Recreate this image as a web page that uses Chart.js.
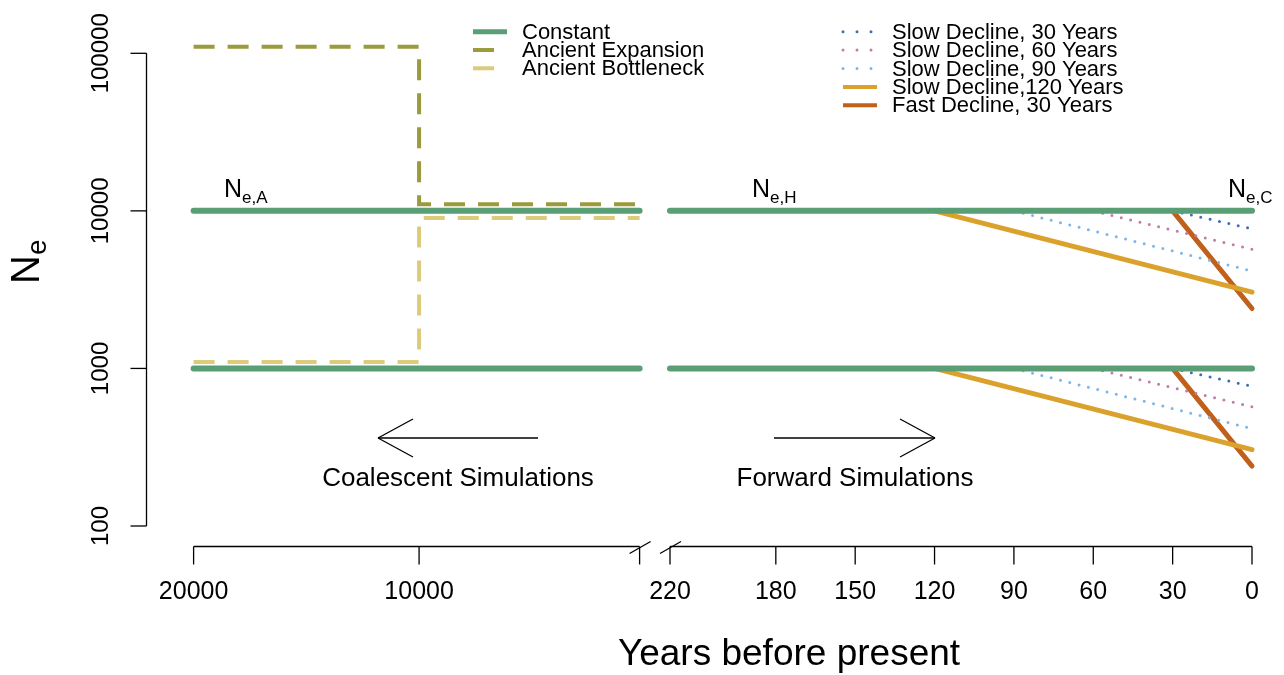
<!DOCTYPE html>
<html>
<head>
<meta charset="utf-8">
<script src="https://cdn.jsdelivr.net/npm/chart.js@4/dist/chart.umd.min.js"></script>
<style>
  body { margin: 0; background: #fff; }
  canvas { display: block; }
</style>
</head>
<body>
<canvas id="ne_chart" width="1284" height="675"></canvas>
<script>
// years before present on the coalescent (left) part of the axis
const ancientYears = [20000, 10000, 10000, 220];
const expansionNe = [110000, 110000, 11000, 11000];
const bottleneckNe = [1100, 1100, 9000, 9000];

// constant Ne, drawn on both parts of the axis
const constantNe = [10000, 1000];
const coalSpan = [20000, 220];
const forwardSpan = [220, 0];

// forward declines: start year, final Ne for the 10000 and the 1000 runs
const declineNames = ['Slow Decline, 30 Years', 'Slow Decline, 60 Years', 'Slow Decline, 90 Years',
  'Slow Decline,120 Years', 'Fast Decline, 30 Years'];
const declineStart = [30, 60, 90, 120, 30];
const declineEndHigh = [7700, 5700, 4150, 3050, 2400];
const declineEndLow = [770, 570, 415, 305, 240];
const declineColors = ['#3d6db5', '#c07cab', '#7db5e9', '#dba12d', '#c0601b'];

const leftTicks = [20000, 10000, 220];
const leftLabels = ['20000', '10000', ''];
const rightTicks = [220, 180, 150, 120, 90, 60, 30, 0];
const yTicks = [100, 1000, 10000, 100000];

// broken axis: both parts live on one linear scale
const LEFT_W = 446, GAP = 30.4, RIGHT_W = 582;
function coalX(yr) { return (20000 - yr) / 19780 * LEFT_W; }
function fwdX(yr) { return LEFT_W + GAP + (220 - yr) / 220 * RIGHT_W; }

const FONT = '"Liberation Sans", Arial, sans-serif';
const green = '#5a9e76';

var datasets = [];

constantNe.forEach(function (ne) {
  datasets.push({
    label: 'Constant',
    data: [
      { x: coalX(coalSpan[0]), y: ne }, { x: coalX(coalSpan[1]), y: ne },
      { x: (coalX(coalSpan[1]) + fwdX(forwardSpan[0])) / 2, y: null },
      { x: fwdX(forwardSpan[0]), y: ne }, { x: fwdX(forwardSpan[1]), y: ne }
    ],
    borderColor: green, borderWidth: 6, borderCapStyle: 'round', order: 0
  });
});

datasets.push({
  label: 'Ancient Expansion',
  data: ancientYears.map(function (yr, i) { return { x: coalX(yr), y: expansionNe[i] }; }),
  borderColor: '#9b9a3c', borderWidth: 4, borderDash: [21, 13], order: 2
});
datasets.push({
  label: 'Ancient Bottleneck',
  data: ancientYears.map(function (yr, i) { return { x: coalX(yr), y: bottleneckNe[i] }; }),
  borderColor: '#dccb7b', borderWidth: 4, borderDash: [21, 13], order: 2
});

declineNames.forEach(function (name, i) {
  var dotted = i < 3;
  [[10000, declineEndHigh[i]], [1000, declineEndLow[i]]].forEach(function (pair) {
    datasets.push({
      label: name,
      data: [{ x: fwdX(declineStart[i]), y: pair[0] }, { x: fwdX(0), y: pair[1] }],
      borderColor: declineColors[i],
      borderWidth: dotted ? 3 : 5,
      borderDash: dotted ? [0, 9.6] : [],
      borderCapStyle: 'round',
      order: 1
    });
  });
});

function seg(ctx, x1, y1, x2, y2) {
  ctx.beginPath(); ctx.moveTo(x1, y1); ctx.lineTo(x2, y2); ctx.stroke();
}

function subText(ctx, x, y, main, sub, size, subSize) {
  ctx.font = size + 'px ' + FONT;
  ctx.fillText(main, x, y);
  var w = ctx.measureText(main).width;
  ctx.font = subSize + 'px ' + FONT;
  ctx.fillText(sub, x + w, y + size * 0.25);
}

// R-style axes, legend and notes
const rDecor = {
  id: 'rDecor',
  afterDraw(chart) {
    const ctx = chart.ctx;
    const xs = chart.scales.x, ys = chart.scales.y;
    ctx.save();
    ctx.strokeStyle = '#000'; ctx.fillStyle = '#000'; ctx.lineWidth = 1.3;
    ctx.setLineDash([]);

    // y axis
    const ax = 146.5;
    seg(ctx, ax, ys.getPixelForValue(100), ax, ys.getPixelForValue(100000));
    ctx.font = '24px ' + FONT;
    ctx.textAlign = 'center'; ctx.textBaseline = 'middle';
    yTicks.forEach(function (v) {
      const py = ys.getPixelForValue(v);
      seg(ctx, ax - 16, py, ax, py);
      ctx.save(); ctx.translate(101, py); ctx.rotate(-Math.PI / 2);
      ctx.fillText(String(v), 0, 0); ctx.restore();
    });

    // x axis in two parts
    const ay = 546.5;
    const l0 = xs.getPixelForValue(coalX(leftTicks[0])), l1 = xs.getPixelForValue(coalX(220));
    const r0 = xs.getPixelForValue(fwdX(220)), r1 = xs.getPixelForValue(fwdX(0));
    seg(ctx, l0, ay, l1, ay);
    seg(ctx, r0, ay, r1, ay);
    ctx.font = '25px ' + FONT;
    leftTicks.forEach(function (t, i) {
      const px = xs.getPixelForValue(coalX(t));
      seg(ctx, px, ay, px, ay + 18);
      if (leftLabels[i]) ctx.fillText(leftLabels[i], px, 592);
    });
    rightTicks.forEach(function (t) {
      const px = xs.getPixelForValue(fwdX(t));
      seg(ctx, px, ay, px, ay + 18);
      ctx.fillText(String(t), px, 592);
    });
    [l1, r0].forEach(function (px) { seg(ctx, px - 10, ay + 7, px + 11, ay - 5); });

    // axis titles
    ctx.font = '37px ' + FONT;
    ctx.fillText('Years before present', 789, 655);
    ctx.save(); ctx.translate(28, 264); ctx.rotate(-Math.PI / 2);
    ctx.textAlign = 'left'; ctx.textBaseline = 'middle';
    subText(ctx, -20, 0, 'N', 'e', 40, 28);
    ctx.restore();

    // arrows and simulation notes
    ctx.lineWidth = 1.3;
    const arY = 438;
    seg(ctx, 538, arY, 378, arY);
    seg(ctx, 413, arY - 19, 378, arY); seg(ctx, 378, arY, 413, arY + 19);
    seg(ctx, 774, arY, 935, arY);
    seg(ctx, 900, arY - 19, 935, arY); seg(ctx, 935, arY, 900, arY + 19);
    ctx.font = '26px ' + FONT;
    ctx.fillText('Coalescent Simulations', 458, 479);
    ctx.fillText('Forward Simulations', 855, 479);

    // Ne labels on the constant line
    ctx.textAlign = 'left'; ctx.textBaseline = 'alphabetic';
    const neY = ys.getPixelForValue(10000) - 14;
    subText(ctx, 224, neY, 'N', 'e,A', 25, 17);
    subText(ctx, 752, neY, 'N', 'e,H', 25, 17);
    subText(ctx, 1228, neY, 'N', 'e,C', 25, 17);

    // legend, two blocks
    const rows = [
      [473, 31.7, 'Constant', green, 5, []],
      [473, 50, 'Ancient Expansion', '#9b9a3c', 4, [21, 13]],
      [473, 68.3, 'Ancient Bottleneck', '#dccb7b', 4, [21, 13]]
    ];
    declineNames.forEach(function (name, i) {
      rows.push([843, 31.7 + i * 18.4, name, declineColors[i], i < 3 ? 3 : 4, i < 3 ? [0, 14] : []]);
    });
    ctx.font = '22px ' + FONT; ctx.textBaseline = 'middle';
    rows.forEach(function (r) {
      ctx.save();
      ctx.strokeStyle = r[3]; ctx.lineWidth = r[4]; ctx.setLineDash(r[5]);
      ctx.lineCap = r[5].length && r[5][0] === 0 ? 'round' : 'butt';
      seg(ctx, r[0], r[1], r[0] + 34, r[1]);
      ctx.restore();
      ctx.fillText(r[2], r[0] + 49, r[1] + 1);
    });
    ctx.restore();
  }
};

var neChart = new Chart(document.getElementById('ne_chart'), {
  type: 'line',
  data: { datasets: datasets },
  options: {
    responsive: false,
    animation: false,
    spanGaps: false,
    layout: { padding: { left: 193.6, right: 32, top: 53.3, bottom: 149 } },
    plugins: { legend: { display: false }, tooltip: { enabled: false } },
    elements: { point: { radius: 0 }, line: { tension: 0, fill: false } },
    datasets: { line: { clip: false } },
    scales: {
      x: { type: 'linear', min: 0, max: LEFT_W + GAP + RIGHT_W, display: false },
      y: { type: 'logarithmic', min: 100, max: 100000, display: false }
    }
  },
  plugins: [rDecor]
});
</script>
</body>
</html>
